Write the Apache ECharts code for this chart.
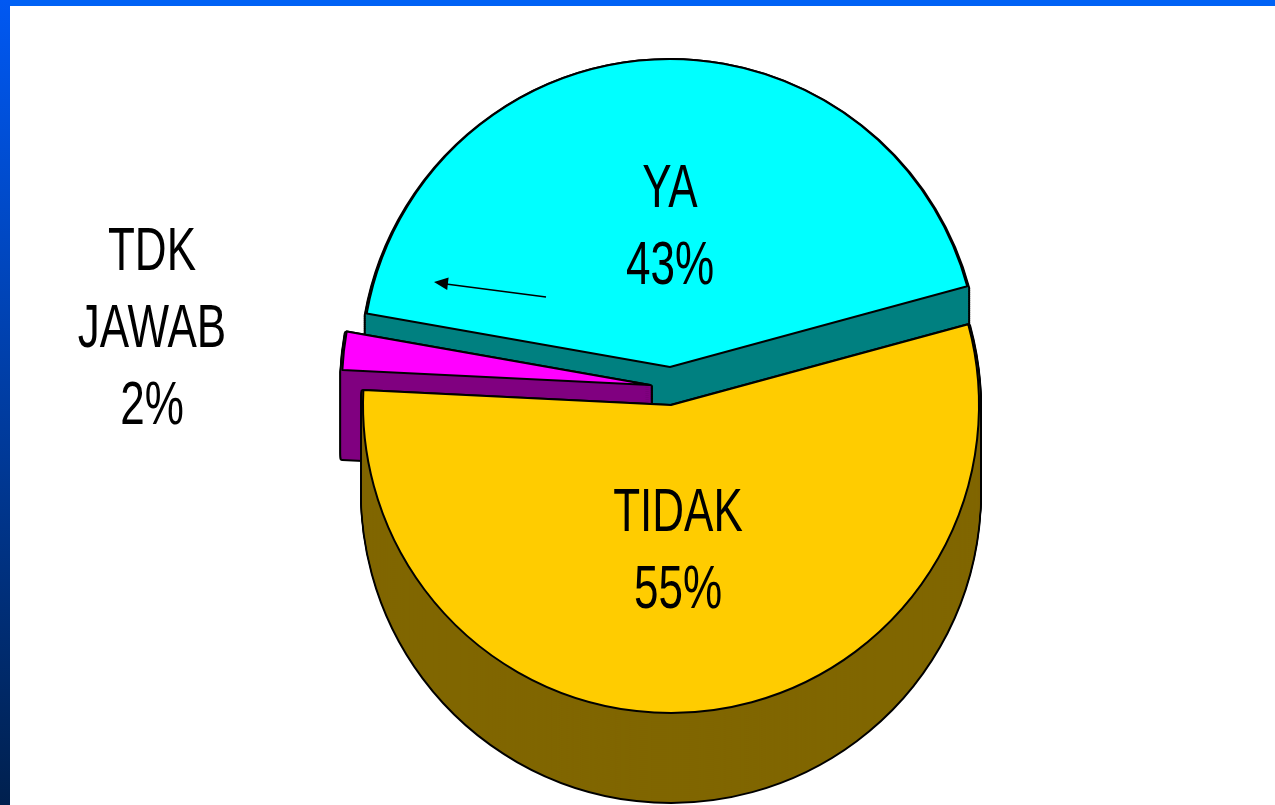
<!DOCTYPE html>
<html>
<head>
<meta charset="utf-8">
<script src="https://cdn.jsdelivr.net/npm/echarts@6.0.0/dist/echarts.min.js"></script>
<style>
  html, body { margin: 0; padding: 0; background: #fff; overflow: hidden; }
  #container { position: absolute; left: 0; top: 0; width: 1275px; height: 805px; }
  #topbar { position: absolute; left: 0; top: 0; width: 1275px; height: 6px; background: #0062f5; }
  #leftbar { position: absolute; left: 0; top: 0; width: 10px; height: 805px;
             background: linear-gradient(to bottom, #0058f2, #003a9a 55%, #00204e); }
</style>
</head>
<body>
<div id="container"></div>
<div id="topbar"></div>
<div id="leftbar"></div>
<script>
var categories = ['YA', 'TIDAK', 'TDK\nJAWAB'];
var values = [43, 55, 2];
var topColors = ['#00ffff', '#ffcc00', '#ff00ff'];
var sideColors = ['#008080', '#806600', '#800080'];

// exploded centre of every slice, pie radius and depth of the 3d side
var centers = [[670, 367], [671, 405], [650, 385]];
var radius = 308;
var depth = 88;
var step = 2;
var drawOrder = [0, 2, 1]; // back to front

// where the text of each slice sits (narrow font is faked with scaleX)
var labelPos = [[670, 228], [678, 552], [152, 330]];

var dom = document.getElementById('container');
var myChart = echarts.init(dom);

function sliceSeries(idx, dy, fill, stroke, border) {
  return {
    type: 'pie',
    silent: true,
    animation: false,
    radius: radius,
    center: [centers[idx][0], centers[idx][1] + dy],
    startAngle: 170,
    clockwise: true,
    emphasis: { disabled: true },
    labelLine: { show: false },
    label: { show: false },
    data: categories.map(function(name, i) {
      var own = i === idx;
      return {
        name: name,
        value: values[i],
        itemStyle: own
          ? { color: fill, borderColor: stroke, borderWidth: border, borderJoin: 'round' }
          : { color: 'rgba(0,0,0,0)', borderWidth: 0 }
      };
    })
  };
}

var series = [];
drawOrder.forEach(function(idx) {
  var s;
  // black pass: gives the outline of the extruded side
  for (s = depth; s >= step; s -= step) {
    series.push(sliceSeries(idx, s, '#000', '#000', 6));
  }
  // colour pass of the side (a border of the same colour closes the gaps)
  for (s = depth; s >= step; s -= step) {
    series.push(sliceSeries(idx, s, sideColors[idx], sideColors[idx], 2));
  }
  // top face
  series.push(sliceSeries(idx, 0, topColors[idx], '#000', 2));
});

var total = values.reduce(function(a, b) { return a + b; }, 0);
var labels = categories.map(function(name, i) {
  return {
    type: 'text',
    z: 100,
    x: labelPos[i][0],
    y: labelPos[i][1],
    scaleX: 0.71,
    style: {
      text: name + '\n' + Math.round(values[i] / total * 100) + '%',
      fill: '#000',
      font: "62px 'Liberation Sans', Arial, sans-serif",
      lineHeight: 77,
      align: 'center',
      verticalAlign: 'middle'
    }
  };
});

myChart.setOption({
  backgroundColor: '#fff',
  animation: false,
  series: series,
  graphic: labels.concat([
    {
      type: 'line',
      z: 100,
      shape: { x1: 546, y1: 297, x2: 446, y2: 284 },
      style: { stroke: '#000', lineWidth: 1.5 }
    },
    {
      type: 'polygon',
      z: 100,
      shape: { points: [[434, 282], [448.6, 277.5], [447.2, 290]] },
      style: { fill: '#000' }
    }
  ])
});
</script>
</body>
</html>
